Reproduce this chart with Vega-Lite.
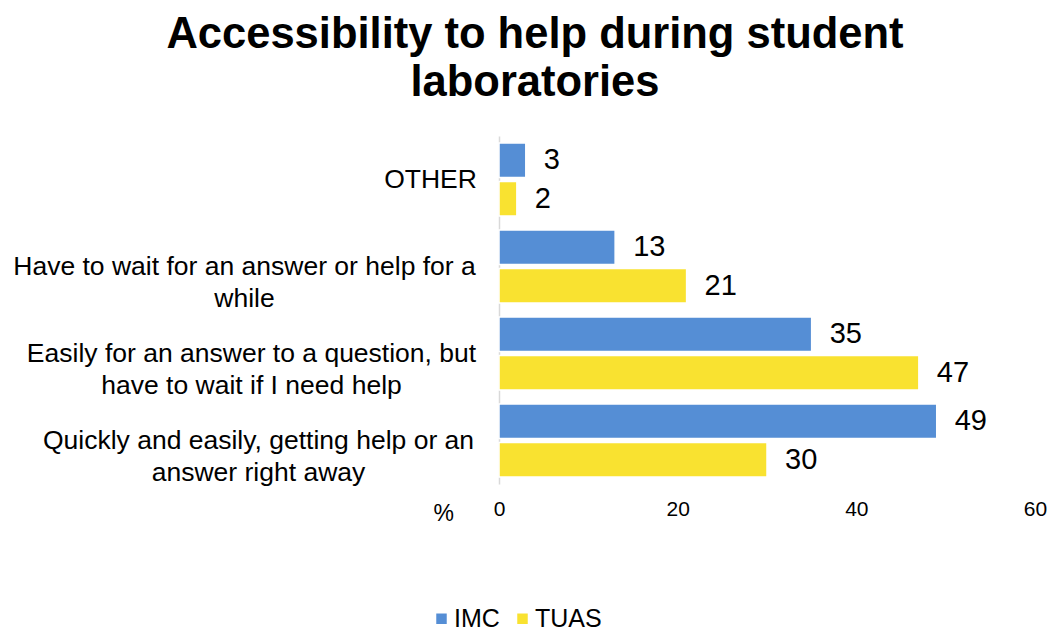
{
  "$schema": "https://vega.github.io/schema/vega-lite/v6.json",
  "width": 536,
  "height": 348,
  "autosize": "none",
  "padding": {"left": 499, "top": 136, "right": 22, "bottom": 149},
  "background": "white",
  "config": {
    "font": "Liberation Sans",
    "view": {"stroke": null}
  },
  "title": {
    "text": ["Accessibility to help during student", "laboratories"],
    "fontSize": 43.5,
    "fontWeight": "bold",
    "color": "#000000",
    "anchor": "middle",
    "frame": "group",
    "dx": -232,
    "lineHeight": 48,
    "offset": 31
  },
  "data": {
    "values": [
      {"answer": "OTHER", "school": "IMC", "pct": 3},
      {"answer": "OTHER", "school": "TUAS", "pct": 2},
      {"answer": "Have to wait for an answer or help for a|while", "school": "IMC", "pct": 13},
      {"answer": "Have to wait for an answer or help for a|while", "school": "TUAS", "pct": 21},
      {"answer": "Easily for an answer to a question, but|have to wait if I need help", "school": "IMC", "pct": 35},
      {"answer": "Easily for an answer to a question, but|have to wait if I need help", "school": "TUAS", "pct": 47},
      {"answer": "Quickly and easily, getting help or an|answer right away", "school": "IMC", "pct": 49},
      {"answer": "Quickly and easily, getting help or an|answer right away", "school": "TUAS", "pct": 30}
    ]
  },
  "encoding": {
    "y": {
      "field": "answer",
      "type": "nominal",
      "sort": null,
      "scale": {"paddingInner": 0.16, "paddingOuter": 0.08},
      "axis": {
        "title": null,
        "labelExpr": "split(datum.label, '|')",
        "labelFontSize": 26.5,
        "labelColor": "#000000",
        "labelLineHeight": 32,
        "labelAlign": "center",
        "labelPadding": 0,
        "labelLimit": 600,
        "ticks": false,
        "domainColor": "#d9d9d9",
        "domainWidth": 1.5,
        "encoding": {
          "labels": {
            "dx": {
              "condition": [
                {"test": "datum.value === 'OTHER'", "value": -69},
                {"test": "indexof(datum.value, 'Have') === 0", "value": -255},
                {"test": "indexof(datum.value, 'Easily') === 0", "value": -248}
              ],
              "value": -241
            }
          }
        }
      }
    },
    "yOffset": {"field": "school", "type": "nominal", "scale": {"paddingInner": 0.1}},
    "x": {
      "field": "pct",
      "type": "quantitative",
      "scale": {"domain": [0, 60]},
      "axis": {
        "title": "%",
        "titleFontSize": 23,
        "titleFontWeight": "normal",
        "titleColor": "#000000",
        "titleAnchor": "start",
        "titleAlign": "left",
        "titleBaseline": "middle",
        "titleX": -66,
        "titleY": 29,
        "values": [0, 20, 40, 60],
        "labelFontSize": 21,
        "labelColor": "#000000",
        "labelPadding": 14,
        "grid": false,
        "ticks": false,
        "domain": false,
        "labelFlush": false
      }
    }
  },
  "layer": [
    {
      "mark": {"type": "bar", "stroke": "white", "strokeWidth": 1.5},
      "encoding": {
        "color": {
          "field": "school",
          "type": "nominal",
          "scale": {"domain": ["IMC", "TUAS"], "range": ["#558ED5", "#F9E230"]},
          "legend": {
            "title": null,
            "orient": "none",
            "direction": "horizontal",
            "legendX": -70,
            "legendY": 470,
            "symbolType": "square",
            "symbolSize": 110,
            "symbolStrokeWidth": 0,
            "labelFontSize": 25,
            "labelColor": "#000000",
            "columnPadding": 10,
            "labelOffset": 0
          }
        }
      }
    },
    {
      "mark": {"type": "text", "align": "left", "baseline": "middle", "dx": 18, "fontSize": 29, "color": "#000000"},
      "encoding": {
        "text": {"field": "pct", "type": "quantitative"}
      }
    }
  ]
}
